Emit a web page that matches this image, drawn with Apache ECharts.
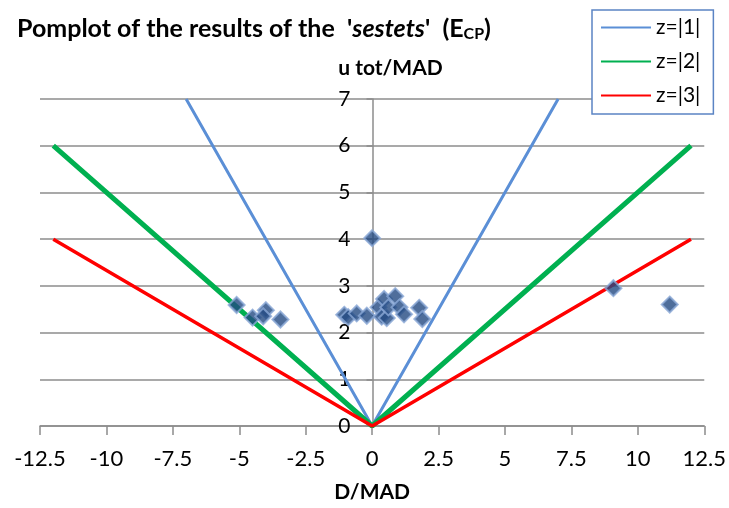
<!DOCTYPE html>
<html>
<head>
<meta charset="utf-8">
<script src="https://cdn.jsdelivr.net/npm/echarts@6/dist/echarts.min.js"></script>
<style>
  html, body { margin: 0; padding: 0; background: #fff; }
  #chart { width: 729px; height: 508px; }
</style>
</head>
<body>
<div id="chart"></div>
<script>
// Reference lines u = |D| / z for z = 1, 2, 3
const lineZ1 = [[-7, 7], [0, 0], [7, 7]];
const lineZ2 = [[-12, 6], [0, 0], [12, 6]];
const lineZ3 = [[-12, 4], [0, 0], [12, 4]];

// Laboratory results: D/MAD and u tot/MAD
const dValues = [-5.1, -4.5, -4.0, -4.1, -3.45, -1.05, -0.9, -0.58, -0.2, 0.0,
                 0.24, 0.45, 0.36, 0.55, 0.61, 0.87, 1.03, 1.2, 1.77, 1.89, 9.08, 11.2];
const uValues = [2.59, 2.32, 2.48, 2.35, 2.28, 2.38, 2.33, 2.41, 2.36, 4.02,
                 2.54, 2.72, 2.34, 2.31, 2.54, 2.78, 2.54, 2.39, 2.53, 2.29, 2.95, 2.6];

const xTicks = { min: -12.5, max: 12.5, interval: 2.5 };
const yTicks = { min: 0, max: 7, interval: 1 };

const seriesNames = ['z=|1|', 'z=|2|', 'z=|3|'];

const FONT = 'Lato';
const GRID = { left: 40, right: 24, top: 99, bottom: 82 };
const plotWidth = 729 - GRID.left - GRID.right;
// shift the value axis so it sits on D = 0, labels included
const yAxisShift = -plotWidth * (0 - xTicks.min) / (xTicks.max - xTicks.min);

const chart = echarts.init(document.getElementById('chart'), null, { renderer: 'canvas' });

chart.setOption({
  animation: false,
  backgroundColor: '#ffffff',
  textStyle: { fontFamily: FONT },
  title: {
    left: 12,
    top: 11,
    text: "{b|Pomplot of the results of the  '}{i|sestets}{b|'  (E}{s|CP}{b|)}",
    textStyle: {
      rich: {
        b: { fontFamily: FONT, fontWeight: 'bold', fontSize: 25, color: '#000' },
        i: { fontFamily: FONT, fontWeight: 'bold', fontStyle: 'italic', fontSize: 25, color: '#000' },
        s: { fontFamily: FONT, fontWeight: 'bold', fontSize: 16, color: '#000', verticalAlign: 'bottom', padding: [10, 0, 0, 0] }
      }
    }
  },
  legend: {
    orient: 'vertical',
    left: 592,
    top: 10,
    padding: [7, 13, 8, 8],
    itemGap: 13,
    itemWidth: 50,
    itemHeight: 22,
    backgroundColor: '#ffffff',
    borderColor: '#5b84c4',
    borderWidth: 1.5,
    borderRadius: 0,
    itemStyle: { opacity: 0 },
    data: seriesNames,
    textStyle: { fontFamily: FONT, fontSize: 21, color: '#000' }
  },
  grid: GRID,
  xAxis: {
    type: 'value',
    min: xTicks.min,
    max: xTicks.max,
    interval: xTicks.interval,
    name: 'D/MAD',
    nameLocation: 'middle',
    nameGap: 56,
    nameTextStyle: { fontFamily: FONT, fontWeight: 'bold', fontSize: 21, color: '#000' },
    axisLine: { show: true, onZero: false, lineStyle: { color: '#8c8c8c', width: 1.5 } },
    axisTick: { show: true, inside: false, length: 9, lineStyle: { color: '#8c8c8c', width: 1.5 } },
    axisLabel: { fontFamily: FONT, fontSize: 22, color: '#000', margin: 22 },
    splitLine: { show: false }
  },
  yAxis: {
    type: 'value',
    min: yTicks.min,
    max: yTicks.max,
    interval: yTicks.interval,
    offset: yAxisShift,
    name: 'u tot/MAD',
    nameLocation: 'end',
    nameGap: 20,
    nameTextStyle: { fontFamily: FONT, fontWeight: 'bold', fontSize: 21, color: '#000', padding: [0, 0, 0, 36] },
    axisLine: { show: true, onZero: false, lineStyle: { color: '#8c8c8c', width: 1.5 } },
    axisTick: { show: true, inside: false, length: 6, lineStyle: { color: '#8c8c8c', width: 1.5 } },
    axisLabel: { fontFamily: FONT, fontSize: 21, color: '#000', margin: 22 },
    splitLine: { show: true, lineStyle: { color: '#8c8c8c', width: 1.5 } }
  },
  series: [
    {
      name: seriesNames[0], type: 'line', data: lineZ1, symbol: 'none', z: 3,
      lineStyle: { color: '#5b8fd6', width: 3 }, itemStyle: { color: '#5b8fd6' }
    },
    {
      name: seriesNames[1], type: 'line', data: lineZ2, symbol: 'none', z: 3,
      lineStyle: { color: '#00b050', width: 5 }, itemStyle: { color: '#00b050' }
    },
    {
      name: seriesNames[2], type: 'line', data: lineZ3, symbol: 'none', z: 3,
      lineStyle: { color: '#ff0000', width: 3.5 }, itemStyle: { color: '#ff0000' }
    },
    {
      name: 'results', type: 'scatter', z: 5,
      symbol: 'diamond', symbolSize: 16,
      data: dValues.map((d, i) => [d, uValues[i]]),
      itemStyle: { color: '#234a82', borderColor: '#8aa7d6', borderWidth: 2 }
    }
  ]
});
</script>
</body>
</html>
